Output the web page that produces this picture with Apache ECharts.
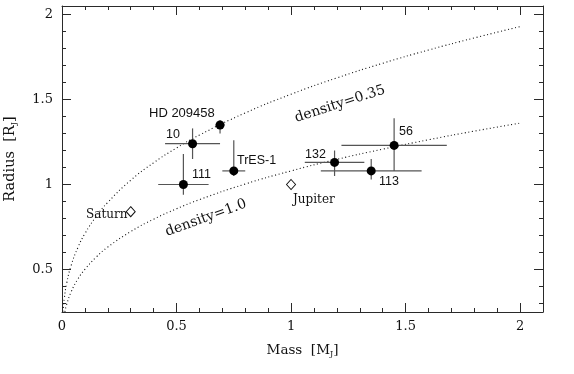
<!DOCTYPE html>
<html>
<head>
<meta charset="utf-8">
<script src="https://cdn.jsdelivr.net/npm/echarts@6/dist/echarts.min.js"></script>
<style>html,body{margin:0;padding:0;background:#fff;}#c{width:574px;height:374px;}</style>
</head>
<body>
<div id="c"></div>
<script>
// ---- data ----
var planetNames = ['HD 209458', '10', '111', 'TrES-1', '56', '132', '113'];
var mass   = [0.69, 0.57, 0.53, 0.75, 1.45, 1.19, 1.35];
var massLo = [0.67, 0.45, 0.42, 0.70, 1.22, 1.06, 1.13];
var massHi = [0.71, 0.69, 0.64, 0.80, 1.68, 1.32, 1.57];
var radius = [1.35, 1.24, 1.00, 1.08, 1.23, 1.13, 1.08];
var radLo  = [1.30, 1.15, 0.94, 1.05, 1.08, 1.05, 1.03];
var radHi  = [1.38, 1.33, 1.18, 1.26, 1.39, 1.20, 1.15];

var solarNames  = ['Saturn', 'Jupiter'];
var solarMass   = [0.30, 1.00];
var solarRadius = [0.84, 1.00];

// density curves
var curveMass   = [0.0045, 0.006, 0.01, 0.02, 0.04, 0.07, 0.1, 0.15, 0.2, 0.3, 0.4, 0.5, 0.6, 0.8, 1.0, 1.2, 1.4, 1.6, 1.8, 2.0];
var dens035R    = [0.253, 0.278, 0.330, 0.416, 0.524, 0.631, 0.711, 0.813, 0.895, 1.025, 1.128, 1.215, 1.291, 1.421, 1.531, 1.627, 1.713, 1.791, 1.862, 1.929];
var curveMass1  = [0.0125, 0.02, 0.04, 0.07, 0.1, 0.15, 0.2, 0.3, 0.4, 0.5, 0.6, 0.8, 1.0, 1.2, 1.4, 1.6, 1.8, 2.0];
var dens10R     = [0.251, 0.293, 0.369, 0.445, 0.501, 0.574, 0.632, 0.723, 0.796, 0.857, 0.911, 1.003, 1.080, 1.148, 1.208, 1.263, 1.314, 1.361];

var xMajor = [0, 0.5, 1, 1.5, 2];
var xMinor = [0.1,0.2,0.3,0.4,0.6,0.7,0.8,0.9,1.1,1.2,1.3,1.4,1.6,1.7,1.8,1.9,2.0];
var yMajor = [0.5, 1, 1.5, 2];
var yMinor = [0.3,0.4,0.6,0.7,0.8,0.9,1.1,1.2,1.3,1.4,1.6,1.7,1.8,1.9];

// ---- chart ----
var SERIF = '"DejaVu Serif", serif';
var SANS = '"Liberation Sans", Arial, sans-serif';
var axisCol = '#2a2a2a';

function zip(a, b) { return a.map(function (v, i) { return [v, b[i]]; }); }

function xAxisDef(pos, ticks, len, showLabel, showLine) {
  return {
    type: 'value', position: pos, min: 0, max: 2.1,
    axisLine: { show: showLine, onZero: false, lineStyle: { color: axisCol, width: 1 } },
    axisTick: { show: true, inside: true, length: len, customValues: ticks, lineStyle: { color: axisCol } },
    axisLabel: { show: showLabel, customValues: ticks, margin: 8, color: '#111', fontFamily: SERIF, fontSize: 13 },
    splitLine: { show: false }
  };
}
function yAxisDef(pos, ticks, len, showLabel, showLine) {
  return {
    type: 'value', position: pos, min: 0.25, max: 2.05,
    axisLine: { show: showLine, onZero: false, lineStyle: { color: axisCol, width: 1 } },
    axisTick: { show: true, inside: true, length: len, customValues: ticks, lineStyle: { color: axisCol } },
    axisLabel: { show: showLabel, customValues: ticks, margin: 9, color: '#111', fontFamily: SERIF, fontSize: 13 },
    splitLine: { show: false }
  };
}

var subRich = { s: { fontFamily: SERIF, fontSize: 8, padding: [8, 0, 0, 0] } };

var xA0 = xAxisDef('bottom', xMajor, 9, true, true);
xA0.name = 'Mass  [M{s|J}]';
xA0.nameLocation = 'middle';
xA0.nameGap = 30;
xA0.nameTextStyle = { fontFamily: SERIF, fontSize: 13.5, color: '#111', rich: subRich };

var yA0 = yAxisDef('left', yMajor, 9, true, true);
yA0.name = 'Radius  [R{s|J}]';
yA0.nameLocation = 'middle';
yA0.nameRotate = 90;
yA0.nameGap = 44;
yA0.nameTextStyle = { fontFamily: SERIF, fontSize: 14.5, color: '#111', rich: subRich };

var errData = mass.map(function (m, i) { return [m, radius[i], massLo[i], massHi[i], radLo[i], radHi[i]]; });

var labelPos = [
  [149, 113.5], [166, 135], [192, 175], [237, 161], [399, 131.5], [305, 155], [379, 181.5]
];
var labelSize = [13, 12.5, 12.5, 12.5, 12.5, 12.5, 12.5];
var solarLabelPos = [[86, 215], [293, 200]];

var graphics = [];
planetNames.forEach(function (n, i) {
  graphics.push({ type: 'text', x: labelPos[i][0], y: labelPos[i][1], z: 100,
    style: { text: n, font: labelSize[i] + 'px ' + SANS, fill: '#111', align: 'left', verticalAlign: 'middle' } });
});
solarNames.forEach(function (n, i) {
  graphics.push({ type: 'text', x: solarLabelPos[i][0], y: solarLabelPos[i][1], z: 100,
    style: { text: n, font: '12px ' + SERIF, fill: '#111', align: 'left', verticalAlign: 'middle' } });
});
graphics.push({ type: 'text', x: 340, y: 104, rotation: 18 * Math.PI / 180, z: 100,
  style: { text: 'density=0.35', font: '14px ' + SERIF, fill: '#111', align: 'center', verticalAlign: 'middle' } });
graphics.push({ type: 'text', x: 206, y: 218, rotation: 20 * Math.PI / 180, z: 100,
  style: { text: 'density=1.0', font: '14px ' + SERIF, fill: '#111', align: 'center', verticalAlign: 'middle' } });

var chart = echarts.init(document.getElementById('c'), null, { renderer: 'canvas' });
chart.setOption({
  animation: false,
  backgroundColor: '#fff',
  grid: { left: 62, top: 6, width: 481, height: 306, containLabel: false, outerBoundsMode: 'none' },
  xAxis: [
    xA0,
    xAxisDef('bottom', xMinor, 4, false, false),
    xAxisDef('top', xMajor, 9, false, true),
    xAxisDef('top', xMinor, 4, false, false)
  ],
  yAxis: [
    yA0,
    yAxisDef('left', yMinor, 4, false, false),
    yAxisDef('right', yMajor, 9, false, true),
    yAxisDef('right', yMinor, 4, false, false)
  ],
  graphic: graphics,
  series: [
    { type: 'line', data: zip(curveMass, dens035R), smooth: true, showSymbol: false, symbol: 'none',
      lineStyle: { color: '#111', width: 1.1, type: [1, 2.6] }, z: 1 },
    { type: 'line', data: zip(curveMass1, dens10R), smooth: true, showSymbol: false, symbol: 'none',
      lineStyle: { color: '#111', width: 1.1, type: [1, 2.6] }, z: 1 },
    { type: 'custom', data: errData, encode: { x: [0, 2, 3], y: [1, 4, 5] }, z: 2,
      renderItem: function (params, api) {
        var x = api.value(0), y = api.value(1);
        var pL = api.coord([api.value(2), y]), pH = api.coord([api.value(3), y]);
        var pB = api.coord([x, api.value(4)]), pT = api.coord([x, api.value(5)]);
        var st = { stroke: '#555', lineWidth: 1.2 };
        return { type: 'group', children: [
          { type: 'line', shape: { x1: pL[0], y1: pL[1], x2: pH[0], y2: pH[1] }, style: st },
          { type: 'line', shape: { x1: pB[0], y1: pB[1], x2: pT[0], y2: pT[1] }, style: st }
        ] };
      } },
    { type: 'scatter', data: zip(mass, radius), symbol: 'circle', symbolSize: 9,
      itemStyle: { color: '#000', opacity: 1 }, z: 3 },
    { type: 'scatter', data: zip(solarMass, solarRadius), symbol: 'diamond', symbolSize: [9, 10],
      itemStyle: { color: '#fff', borderColor: '#111', borderWidth: 1, opacity: 1 }, z: 3 }
  ]
});
</script>
</body>
</html>
